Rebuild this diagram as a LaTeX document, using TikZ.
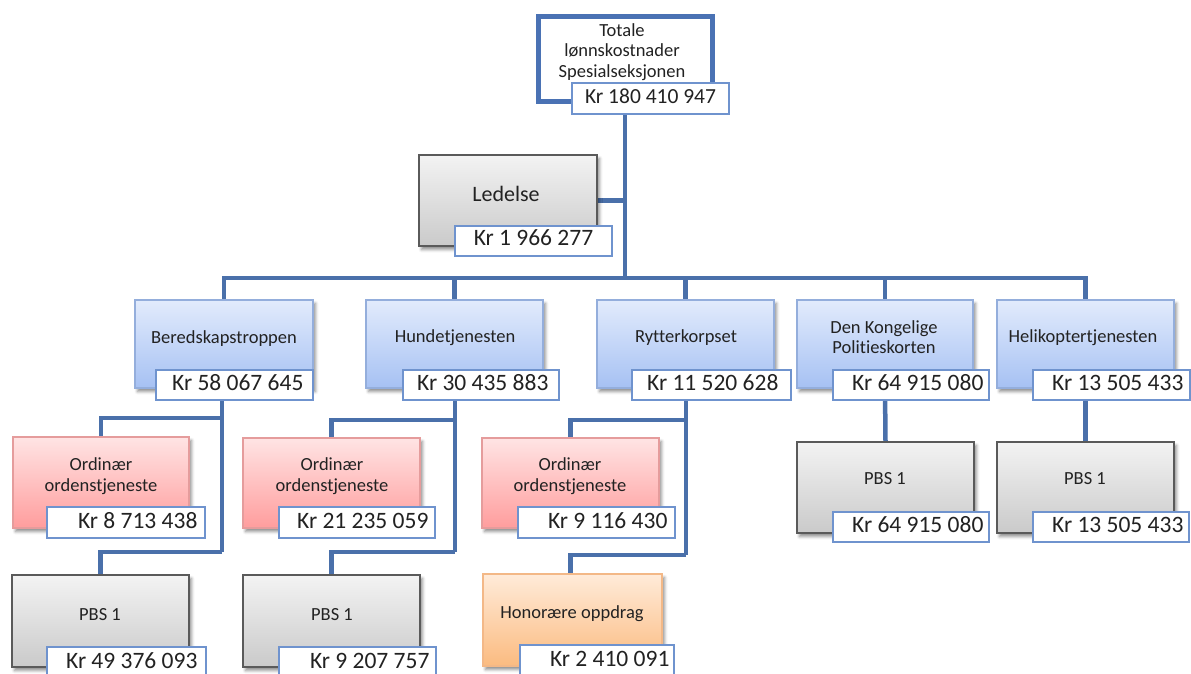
\documentclass[tikz,border=0pt]{standalone}
\usepackage{fontspec}
\setmainfont[Ligatures=NoCommon]{Carlito}
\usetikzlibrary{calc,backgrounds,shadows.blur}

\definecolor{linkblue}{HTML}{4A70AA}
\definecolor{frameblue}{HTML}{4A72B4}
\definecolor{amtedge}{HTML}{6F93CE}
\definecolor{bluetop}{HTML}{E2EBFC}
\definecolor{bluebot}{HTML}{A6C1F3}
\definecolor{blueedge}{HTML}{94AEDC}
\definecolor{redtop}{HTML}{FFE4E4}
\definecolor{redbot}{HTML}{FF9D9D}
\definecolor{rededge}{HTML}{E59C9C}
\definecolor{graytop}{HTML}{F3F3F3}
\definecolor{graybot}{HTML}{CACACA}
\definecolor{grayedge}{HTML}{5A5A5A}
\definecolor{orangetop}{HTML}{FFEBD9}
\definecolor{orangebot}{HTML}{FBBB80}
\definecolor{orangeedge}{HTML}{F3B887}
\definecolor{ink}{HTML}{222222}

\tikzset{
  unitbase/.style={rectangle, inner sep=0pt, line width=1.1pt,
    blur shadow={shadow xshift=2.5pt, shadow yshift=-3.5pt,
                 shadow blur radius=3pt, shadow opacity=45}},
  bluebox/.style={unitbase, draw=blueedge, top color=bluetop, bottom color=bluebot},
  redbox/.style={unitbase, draw=rededge, top color=redtop, bottom color=redbot},
  graybox/.style={unitbase, draw=grayedge, top color=graytop, bottom color=graybot},
  orangebox/.style={unitbase, draw=orangeedge, top color=orangetop, bottom color=orangebot},
  topbox/.style={rectangle, inner sep=0pt, draw=frameblue, line width=5pt, fill=white},
  amtbox/.style={rectangle, inner sep=0pt, draw=amtedge, line width=1.2pt, fill=white},
  lbl/.style={inner sep=0pt, align=center, text=ink,
    font=\fontsize{18.5}{20.5}\selectfont},
  amttext/.style={inner sep=0pt, text=ink, font=\fontsize{23.5}{26}\selectfont},
  connector/.style={draw=linkblue, line width=4.5pt},
}

% box by its corners: name, style, x1, y1, x2, y2
\newcommand\orgunit[6]{%
  \node[#2, minimum width={#5-#3}, minimum height={#6-#4}]
    (#1) at ({(#3+#5)/2},{(#4+#6)/2}) {};}
% amount box, text set flush right: name, x1, y1, x2, y2, right pad, text
\newcommand\kr[7]{%
  \node[amtbox, minimum width={#4-#2}, minimum height={#5-#3}]
    (#1) at ({(#2+#4)/2},{(#3+#5)/2}) {};
  \node[amttext, anchor=base east] (#1-v) at ($(#1.south east)+(-#6,-10)$) {#7};}
% amount box, text centred: name, x1, y1, x2, y2, font, text
\newcommand\krc[7]{%
  \node[amtbox, minimum width={#4-#2}, minimum height={#5-#3}]
    (#1) at ({(#2+#4)/2},{(#3+#5)/2}) {};
  \node[amttext, anchor=base, font=#6] (#1-v) at ($(#1.south)+(0,-11)$) {#7};}

\begin{document}
\begin{tikzpicture}[x=1pt, y=-1pt]
\useasboundingbox (0,0) rectangle (1191,673);
\clip (0,0) rectangle (1191,673);

% top of the tree
\orgunit{top}{topbox}{538}{16}{712}{101}
\node[lbl] (top-t) at (622,52) {Totale\\lønnskostnader\\Spesialseksjonen};
\krc{top-a}{572}{83}{729}{114}{\fontsize{21.5}{24}\selectfont}{Kr 180 410 947}

% management
\orgunit{led}{graybox}{419}{155}{597}{246}
\node[lbl, font=\fontsize{22}{24}\selectfont] (led-t) at (506,193.5) {Ledelse};
\krc{led-a}{455}{226}{612}{256}{\fontsize{23.5}{26}\selectfont}{Kr 1 966 277}

% sections
\orgunit{ber}{bluebox}{135}{300}{313}{388}
\node[lbl] (ber-t) at (224,339) {Beredskapstroppen};
\kr{ber-a}{156}{370}{313}{400}{10}{Kr 58 067 645}

\orgunit{hund}{bluebox}{366}{300}{543}{388}
\node[lbl] (hund-t) at (455,338) {Hundetjenesten};
\kr{hund-a}{403}{370}{559}{400}{11}{Kr 30 435 883}

\orgunit{ryt}{bluebox}{597}{300}{774}{388}
\node[lbl] (ryt-t) at (686,338) {Rytterkorpset};
\kr{ryt-a}{632}{370}{791}{400}{13}{Kr 11 520 628}

\orgunit{dkp}{bluebox}{797}{300}{973}{388}
\node[lbl] (dkp-t) at (884,337) {Den Kongelige\\Politieskorten};
\kr{dkp-a}{833}{370}{989}{400}{6}{Kr 64 915 080}

\orgunit{heli}{bluebox}{997}{300}{1174}{388}
\node[lbl] (heli-t) at (1083,338) {Helikoptertjenesten};
\kr{heli-a}{1033}{370}{1190}{400}{7}{Kr 13 505 433}

% units below the sections
\orgunit{bord}{redbox}{13}{437}{189}{528}
\node[lbl] (bord-t) at (101,476) {Ordinær\\ordenstjeneste};
\kr{bord-a}{47}{507}{205}{538}{8}{Kr 8 713 438}

\orgunit{hord}{redbox}{243}{438}{420}{528}
\node[lbl] (hord-t) at (332,476) {Ordinær\\ordenstjeneste};
\kr{hord-a}{279}{507}{435}{538}{7}{Kr 21 235 059}

\orgunit{rord}{redbox}{482}{438}{659}{528}
\node[lbl] (rord-t) at (570,476) {Ordinær\\ordenstjeneste};
\kr{rord-a}{518}{507}{675}{538}{8}{Kr 9 116 430}

\orgunit{dpbs}{graybox}{797}{442}{974}{533}
\node[lbl] (dpbs-t) at (885,479) {PBS 1};
\kr{dpbs-a}{833}{512}{989}{542}{6}{Kr 64 915 080}

\orgunit{hpbs}{graybox}{997}{442}{1174}{533}
\node[lbl] (hpbs-t) at (1085,479) {PBS 1};
\kr{hpbs-a}{1033}{512}{1189}{542}{6}{Kr 13 505 433}

\orgunit{bpbs}{graybox}{12}{575}{189}{667}
\node[lbl] (bpbs-t) at (100,615) {PBS 1};
\kr{bpbs-a}{47}{647}{206}{678}{9}{Kr 49 376 093}

\orgunit{hupbs}{graybox}{243}{575}{420}{667}
\node[lbl] (hupbs-t) at (332,615) {PBS 1};
\kr{hupbs-a}{279}{647}{436}{678}{7}{Kr 9 207 757}

\orgunit{hon}{orangebox}{483}{574}{662}{666}
\node[lbl] (hon-t) at (572,614) {Honorære oppdrag};
\kr{hon-a}{520}{645}{674}{676}{5}{Kr 2 410 091}

% junction points of the connector lines
\coordinate (hub) at (625,278);
\coordinate (bj1) at (222,418);
\coordinate (bj2) at (222,552);
\coordinate (hj1) at (455,420);
\coordinate (hj2) at (455,552);
\coordinate (rj1) at (686,420);
\coordinate (rj2) at (686,555);

\begin{scope}[on background layer]
  \draw[connector] (top.center) -- (hub);
  \draw[connector] (led.east) -- (led.east -| hub);
  \draw[connector] (ber.north) |- (hub) -| (heli.north);
  \draw[connector] (hund.north) -- (hund.north |- hub);
  \draw[connector] (ryt.north) -- (ryt.north |- hub);
  \draw[connector] (dkp.north) -- (dkp.north |- hub);

  \draw[connector] (bj1 |- ber.south) -- (bj2);
  \draw[connector] (bj1) -| (bord.north);
  \draw[connector] (bj2) -| (bpbs.north);

  \draw[connector] (hj1 |- hund.south) -- (hj2);
  \draw[connector] (hj1) -| (hord.north);
  \draw[connector] (hj2) -| (hupbs.north);

  \draw[connector] (rj1 |- ryt.south) -- (rj2);
  \draw[connector] (rj1) -| (rord.north);
  \draw[connector] (rj2) -| (rord.north |- hon.north);

  \draw[connector] (dkp.south) -- (dpbs.north);
  \draw[connector] (heli.south) -- (hpbs.north);
\end{scope}
\end{tikzpicture}
\end{document}
